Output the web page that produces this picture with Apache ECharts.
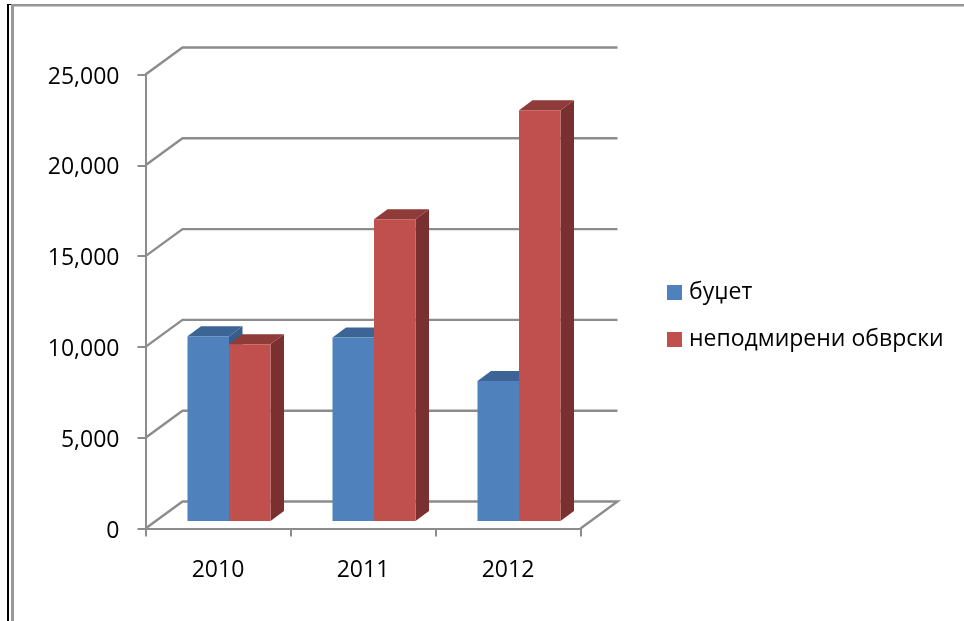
<!DOCTYPE html>
<html>
<head>
<meta charset="utf-8">
<style>html,body{margin:0;padding:0;background:#fff}#c{width:964px;height:621px}</style>
<script src="https://cdn.jsdelivr.net/npm/echarts@6/dist/echarts.min.js"></script>
</head>
<body>
<div id="c"></div>
<script>
const categories = ['2010', '2011', '2012'];
const budget = [10170, 10100, 7710];
const liabilities = [9730, 16610, 22615];
const yTicks = [0, 5000, 10000, 15000, 20000, 25000];
const seriesNames = ['буџет', 'неподмирени обврски'];

const GRAY = '#8c8c8c';
const FONT = '"Open Sans", "Noto Sans", sans-serif';
const WALL_DX = 37, WALL_DY = 27;
const BASE_DX = 11, BASE_DY = 7.5;
const BAR_DX = 13.5, BAR_DY = 10;
const BAR_RATIO = 41.5 / 145;

function barItem(offsetSign, front, top, side) {
  return function (params, api) {
    const i = api.value(0), v = api.value(1);
    const p0 = api.coord([i, 0]), p1 = api.coord([i, v]);
    const w = api.size([1, 0])[0] * BAR_RATIO;
    const cx = p0[0] + BASE_DX;
    const xa = offsetSign < 0 ? cx - w : cx;
    const xb = xa + w;
    const yb = p0[1] - BASE_DY, yt = p1[1] - BASE_DY;
    const s = { lineWidth: 0 };
    return {
      type: 'group',
      children: [
        { type: 'polygon', shape: { points: [[xb, yb], [xb + BAR_DX, yb - BAR_DY], [xb + BAR_DX, yt - BAR_DY], [xb, yt]] }, style: Object.assign({ fill: side }, s) },
        { type: 'polygon', shape: { points: [[xa, yt], [xb, yt], [xb + BAR_DX, yt - BAR_DY], [xa + BAR_DX, yt - BAR_DY]] }, style: Object.assign({ fill: top }, s) },
        { type: 'rect', shape: { x: xa, y: yt, width: w, height: yb - yt }, style: { fill: front } }
      ]
    };
  };
}

function wallItem(params, api) {
  const v = api.value(0);
  const cs = params.coordSys;
  const y = api.coord([0, v])[1];
  const xl = cs.x, xr = cs.x + cs.width;
  const pts = [[xl, y], [xl + WALL_DX, y - WALL_DY], [xr + WALL_DX, y - WALL_DY]];
  if (v === 0) pts.push([xr, y]);
  return { type: 'polyline', shape: { points: pts }, style: { fill: 'none', stroke: GRAY, lineWidth: 2.4 } };
}

const chart = echarts.init(document.getElementById('c'), null, { renderer: 'canvas' });
chart.setOption({
  animation: false,
  backgroundColor: '#fff',
  textStyle: { fontFamily: FONT },
  grid: { left: 145.5, top: 74.5, width: 435, height: 454, containLabel: false },
  legend: {
    orient: 'vertical', left: 667, top: 281, padding: 0, itemWidth: 15, itemHeight: 15, itemGap: 24,
    icon: 'rect', data: seriesNames, itemStyle: { borderWidth: 0 },
    textStyle: { fontSize: 23, color: '#000', fontFamily: FONT, padding: [0, 0, 0, 2] }
  },
  graphic: [
    { type: 'line', shape: { x1: 8, y1: 4, x2: 8, y2: 621 }, style: { stroke: '#000', lineWidth: 2 }, silent: true },
    { type: 'line', shape: { x1: 7, y1: 4.5, x2: 11, y2: 4.5 }, style: { stroke: '#000', lineWidth: 1 }, silent: true },
    { type: 'line', shape: { x1: 12.5, y1: 4, x2: 12.5, y2: 621 }, style: { stroke: '#999', lineWidth: 3 }, silent: true },
    { type: 'line', shape: { x1: 11, y1: 5.2, x2: 964, y2: 5.2 }, style: { stroke: '#969696', lineWidth: 2.5 }, silent: true }
  ],
  xAxis: {
    type: 'category', data: categories, boundaryGap: true,
    axisLine: { show: true, lineStyle: { color: GRAY, width: 2 } },
    axisTick: { show: true, length: 8, alignWithLabel: false, lineStyle: { color: GRAY, width: 2 } },
    axisLabel: { color: '#000', fontSize: 23, fontFamily: FONT, margin: 30 },
    splitLine: { show: false }
  },
  yAxis: {
    type: 'value', min: 0, max: 25000, interval: 5000,
    axisLine: { show: true, lineStyle: { color: GRAY, width: 2 } },
    axisTick: { show: true, length: 8, lineStyle: { color: GRAY, width: 2 } },
    axisLabel: { color: '#000', fontSize: 23, fontFamily: FONT, margin: 26, verticalAlign: 'top', lineHeight: 5,
      formatter: v => v.toLocaleString('en-US') },
    splitLine: { show: false }
  },
  series: [
    { type: 'custom', silent: true, coordinateSystem: 'cartesian2d', renderItem: wallItem,
      data: yTicks.map(v => [v]), encode: { y: 0 }, z: 1, legendHoverLink: false, tooltip: { show: false } },
    { name: seriesNames[0], type: 'custom', coordinateSystem: 'cartesian2d', itemStyle: { color: '#4F81BD' },
      renderItem: barItem(-1, '#4F81BD', '#3C6494', '#385D8A'),
      data: categories.map((c, i) => [i, budget[i]]), encode: { x: 0, y: 1 }, z: 2 },
    { name: seriesNames[1], type: 'custom', coordinateSystem: 'cartesian2d', itemStyle: { color: '#C0504D' },
      renderItem: barItem(1, '#C0504D', '#8E3B39', '#79302E'),
      data: categories.map((c, i) => [i, liabilities[i]]), encode: { x: 0, y: 1 }, z: 3 }
  ]
});
</script>
</body>
</html>
